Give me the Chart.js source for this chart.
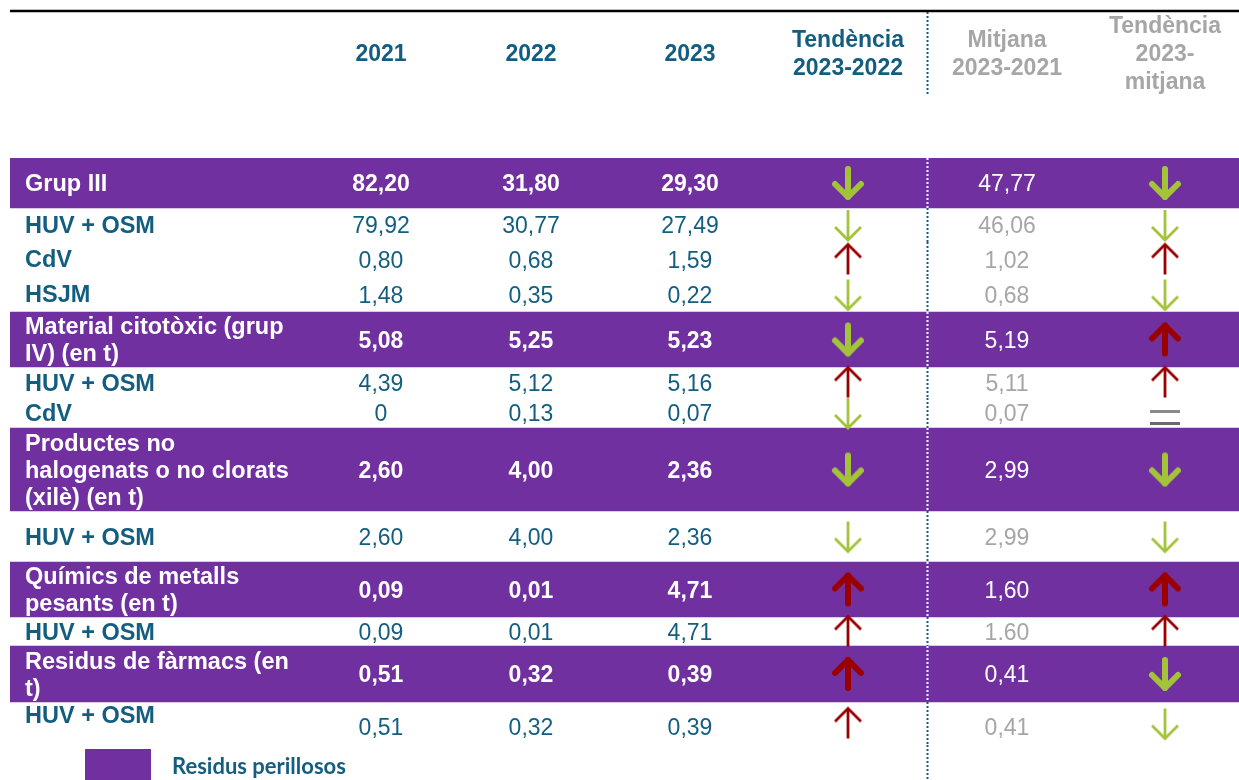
<!DOCTYPE html>
<html>
<head>
<meta charset="utf-8">
<script src="https://cdn.jsdelivr.net/npm/chart.js@4"></script>
<style>
  body { margin: 0; background: #fff; }
  canvas { display: block; }
</style>
</head>
<body>
<canvas id="table-chart" width="1239" height="780"></canvas>
<script>
// ---- data ----
const headers = ['2021', '2022', '2023', 'Tendència\n2023-2022', 'Mitjana\n2023-2021', 'Tendència\n2023-\nmitjana'];
const rowLabels = [
    'Grup III', 'HUV + OSM', 'CdV', 'HSJM',
    'Material citotòxic (grup\nIV) (en t)', 'HUV + OSM', 'CdV',
    'Productes no\nhalogenats o no clorats\n(xilè) (en t)', 'HUV + OSM',
    'Químics de metalls\npesants (en t)', 'HUV + OSM',
    'Residus de fàrmacs (en\nt)', 'HUV + OSM'
];
const isGroup = [1, 0, 0, 0, 1, 0, 0, 1, 0, 1, 0, 1, 0];
const v2021 = ['82,20', '79,92', '0,80', '1,48', '5,08', '4,39', '0', '2,60', '2,60', '0,09', '0,09', '0,51', '0,51'];
const v2022 = ['31,80', '30,77', '0,68', '0,35', '5,25', '5,12', '0,13', '4,00', '4,00', '0,01', '0,01', '0,32', '0,32'];
const v2023 = ['29,30', '27,49', '1,59', '0,22', '5,23', '5,16', '0,07', '2,36', '2,36', '4,71', '4,71', '0,39', '0,39'];
const mitjana = ['47,77', '46,06', '1,02', '0,68', '5,19', '5,11', '0,07', '2,99', '2,99', '1,60', '1.60', '0,41', '0,41'];
const trend2322 = ['down', 'down', 'up', 'down', 'down', 'up', 'down', 'down', 'down', 'up', 'up', 'up', 'up'];
const trendMitjana = ['down', 'down', 'up', 'down', 'up', 'up', 'eq', 'down', 'down', 'up', 'up', 'down', 'down'];
const legendLabel = 'Residus perillosos';

// ---- layout ----
const rowHeights = [50, 34, 35, 35, 55, 31, 30, 83, 51, 55, 29, 56, 43];
const labelShift = [0, 0, -1, -1, 0, 0, 0, 0, 0, 0, 0, 0, -9];
const colX = [381, 531, 690, 848, 1007, 1165];
const labelX = 25;
const dividerX = 927;
const tableLeft = 10;
const tableRight = 1239;
const textNudge = 2;

const PURPLE = '#7030a0';
const TEAL = '#135e80';
const GREY = '#a6a6a6';
const GREEN = '#a3c43a';
const RED = '#9b0000';
const FONT = '"Liberation Sans", Arial, sans-serif';

const total = rowHeights.reduce((a, b) => a + b, 0);
const rowCenters = [];
let acc = 0;
rowHeights.forEach(h => { rowCenters.push(acc + h / 2); acc += h; });

function makeArrow(dir, color, bold) {
    const c = document.createElement('canvas');
    c.width = 40;
    c.height = 40;
    const g = c.getContext('2d');
    g.strokeStyle = color;
    if (dir === 'eq') {
        g.lineWidth = 3;
        g.strokeStyle = '#8a8a8a';
        g.beginPath(); g.moveTo(5, 18.5); g.lineTo(35, 18.5); g.stroke();
        g.strokeStyle = '#6a6a6a';
        g.beginPath(); g.moveTo(5, 30.5); g.lineTo(35, 30.5); g.stroke();
        return c;
    }
    g.lineWidth = bold ? 6 : 2.8;
    g.lineCap = bold ? 'round' : 'butt';
    g.lineJoin = bold ? 'round' : 'miter';
    const h = bold ? 28 : 30;
    const w = 26;
    const s = dir === 'down' ? 1 : -1;
    const tip = 20 + s * h / 2;
    g.beginPath();
    g.moveTo(20, 20 - s * h / 2);
    g.lineTo(20, tip);
    g.stroke();
    g.beginPath();
    g.moveTo(20 - w / 2, tip - s * w / 2);
    g.lineTo(20, tip);
    g.lineTo(20 + w / 2, tip - s * w / 2);
    g.stroke();
    return c;
}

function arrowFor(t, i) {
    if (t === 'eq') return makeArrow('eq');
    return makeArrow(t, t === 'up' ? RED : GREEN, !!isGroup[i]);
}

// one stacked bar per table row: purple for the group rows, transparent otherwise
const midX = (tableLeft + tableRight) / 2;
const rowDatasets = rowHeights.map((h, i) => ({
    type: 'bar',
    label: rowLabels[i],
    data: [{ x: midX, y: h }],
    stack: 'rows',
    backgroundColor: isGroup[i] ? PURPLE : 'rgba(0,0,0,0)',
    borderWidth: 0,
    barPercentage: 1,
    categoryPercentage: 1,
    xAxisID: 'xc',
    yAxisID: 'y',
    order: 2
}));

const arrowDatasets = [
    { trends: trend2322, col: colX[3] },
    { trends: trendMitjana, col: colX[5] }
].map(d => ({
    type: 'scatter',
    label: 'tendència',
    data: d.trends.map((t, i) => ({ x: d.col, y: rowCenters[i] })),
    pointStyle: d.trends.map((t, i) => arrowFor(t, i)),
    xAxisID: 'xc',
    yAxisID: 'y2',
    order: 0
}));

function drawLines(ctx, text, x, y, lh, align) {
    const lines = text.split('\n');
    ctx.textAlign = align;
    lines.forEach((ln, k) => {
        ctx.fillText(ln, x, y + textNudge + (k - (lines.length - 1) / 2) * lh);
    });
}

const tablePlugin = {
    id: 'tableText',
    afterDatasetsDraw(chart) {
        const { ctx, chartArea, scales } = chart;
        const xc = scales.xc;
        const y2 = scales.y2;
        const top = chartArea.top;
        ctx.save();
        ctx.textBaseline = 'middle';

        // top rule
        ctx.strokeStyle = '#000';
        ctx.lineWidth = 2.5;
        ctx.beginPath();
        ctx.moveTo(xc.getPixelForValue(tableLeft), top - 147);
        ctx.lineTo(xc.getPixelForValue(tableRight), top - 147);
        ctx.stroke();

        // dotted divider
        const dx = Math.round(xc.getPixelForValue(dividerX)) + 0.5;
        ctx.lineWidth = 2;
        ctx.setLineDash([2, 2]);
        ctx.strokeStyle = TEAL;
        ctx.beginPath();
        ctx.moveTo(dx, top - 146);
        ctx.lineTo(dx, top - 63);
        ctx.stroke();
        let acc2 = 0;
        rowHeights.forEach((h, i) => {
            ctx.strokeStyle = isGroup[i] ? '#ffffff' : TEAL;
            ctx.beginPath();
            ctx.moveTo(dx, y2.getPixelForValue(acc2));
            ctx.lineTo(dx, y2.getPixelForValue(acc2 + h));
            ctx.stroke();
            acc2 += h;
        });
        ctx.strokeStyle = TEAL;
        ctx.beginPath();
        ctx.moveTo(dx, chartArea.bottom);
        ctx.lineTo(dx, chart.height);
        ctx.stroke();
        ctx.setLineDash([]);

        // header
        ctx.font = 'bold 23px ' + FONT;
        headers.forEach((hd, j) => {
            ctx.fillStyle = j < 4 ? TEAL : GREY;
            drawLines(ctx, hd, xc.getPixelForValue(colX[j]), top - 105, 28, 'center');
        });

        // rows
        rowLabels.forEach((lab, i) => {
            const y = y2.getPixelForValue(rowCenters[i]);
            const g = isGroup[i];
            const vShift = (i === rowLabels.length - 1 ? 3 : 0) + textNudge;
            ctx.font = 'bold 23.5px ' + FONT;
            ctx.fillStyle = g ? '#ffffff' : TEAL;
            drawLines(ctx, lab, xc.getPixelForValue(labelX), y + labelShift[i], 27, 'left');

            ctx.font = (g ? 'bold ' : '') + '23px ' + FONT;
            ctx.textAlign = 'center';
            [v2021, v2022, v2023].forEach((arr, j) => {
                ctx.fillText(arr[i], xc.getPixelForValue(colX[j]), y + vShift);
            });
            ctx.font = '23px ' + FONT;
            ctx.fillStyle = g ? '#ffffff' : GREY;
            ctx.fillText(mitjana[i], xc.getPixelForValue(colX[4]), y + vShift);
        });

        // legend
        ctx.fillStyle = rowDatasets[0].backgroundColor;
        ctx.fillRect(xc.getPixelForValue(85), chartArea.bottom + 4, 66, 35);
        ctx.fillStyle = TEAL;
        ctx.font = 'bold 22px Lato, "Open Sans", sans-serif';
        ctx.textAlign = 'left';
        ctx.fillText(legendLabel, xc.getPixelForValue(172), chartArea.bottom + 22);
        ctx.restore();
    }
};

new Chart(document.getElementById('table-chart'), {
    type: 'bar',
    data: {
        datasets: [...arrowDatasets, ...rowDatasets]
    },
    options: {
        responsive: false,
        devicePixelRatio: 1,
        animation: false,
        events: [],
        layout: { autoPadding: false, padding: { left: tableLeft, right: 0, top: 158, bottom: 35 } },
        plugins: { legend: { display: false }, tooltip: { enabled: false } },
        scales: {
            xc: {
                type: 'linear', axis: 'x', offset: false, stacked: true,
                min: tableLeft, max: tableRight, ticks: { count: 2 }, display: false
            },
            y: { type: 'linear', stacked: true, reverse: true, min: 0, max: total, display: false },
            y2: { type: 'linear', axis: 'y', offset: false, reverse: true, min: 0, max: total, display: false }
        }
    },
    plugins: [tablePlugin]
});
</script>
</body>
</html>
